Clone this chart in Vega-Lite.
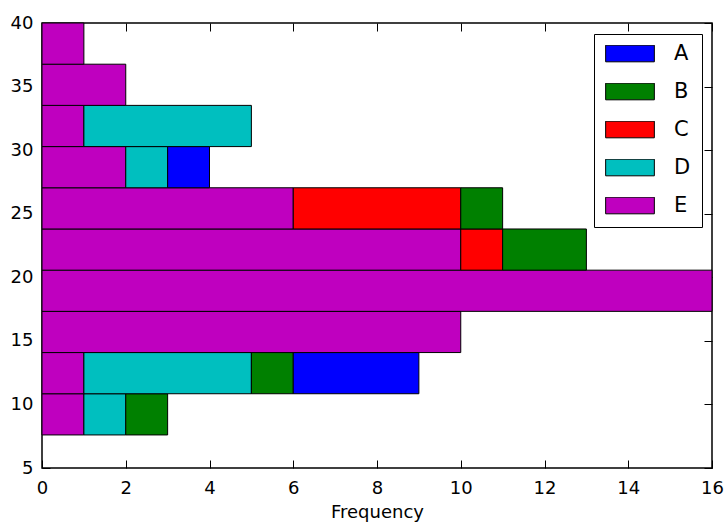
{
  "$schema": "https://vega.github.io/schema/vega-lite/v6.json",
  "width": 670,
  "height": 445,
  "autosize": {"type": "none"},
  "padding": {"left": 42, "top": 23, "right": 13, "bottom": 60},
  "background": "white",
  "data": {
    "values": [
      {"series": "E", "lo": 7.6, "hi": 10.84, "count": 1},
      {"series": "D", "lo": 7.6, "hi": 10.84, "count": 1},
      {"series": "B", "lo": 7.6, "hi": 10.84, "count": 1},
      {"series": "E", "lo": 10.84, "hi": 14.08, "count": 1},
      {"series": "D", "lo": 10.84, "hi": 14.08, "count": 4},
      {"series": "B", "lo": 10.84, "hi": 14.08, "count": 1},
      {"series": "A", "lo": 10.84, "hi": 14.08, "count": 3},
      {"series": "E", "lo": 14.08, "hi": 17.32, "count": 10},
      {"series": "E", "lo": 17.32, "hi": 20.56, "count": 16},
      {"series": "E", "lo": 20.56, "hi": 23.8, "count": 10},
      {"series": "C", "lo": 20.56, "hi": 23.8, "count": 1},
      {"series": "B", "lo": 20.56, "hi": 23.8, "count": 2},
      {"series": "E", "lo": 23.8, "hi": 27.04, "count": 6},
      {"series": "C", "lo": 23.8, "hi": 27.04, "count": 4},
      {"series": "B", "lo": 23.8, "hi": 27.04, "count": 1},
      {"series": "E", "lo": 27.04, "hi": 30.28, "count": 2},
      {"series": "D", "lo": 27.04, "hi": 30.28, "count": 1},
      {"series": "A", "lo": 27.04, "hi": 30.28, "count": 1},
      {"series": "E", "lo": 30.28, "hi": 33.52, "count": 1},
      {"series": "D", "lo": 30.28, "hi": 33.52, "count": 4},
      {"series": "E", "lo": 33.52, "hi": 36.76, "count": 2},
      {"series": "E", "lo": 36.76, "hi": 40, "count": 1}
    ]
  },
  "transform": [
    {"stack": "count", "groupby": ["lo"], "sort": [{"field": "series", "order": "descending"}], "as": ["x0", "x1"]}
  ],
  "layer": [
    {
      "mark": {"type": "bar", "stroke": "black", "strokeWidth": 1, "opacity": 1},
      "encoding": {
        "y": {"field": "lo", "type": "quantitative", "scale": {"domain": [5, 40], "nice": false, "zero": false},
              "axis": {"orient": "left", "offset": -8, "domain": false, "values": [5, 10, 15, 20, 25, 30, 35, 40], "title": null, "labelPadding": 9, "labelBaseline": "middle"}},
        "y2": {"field": "hi"},
        "x": {"field": "x0", "type": "quantitative", "scale": {"domain": [0, 16], "nice": false},
              "axis": {"orient": "bottom", "offset": -8, "domain": false, "values": [0, 2, 4, 6, 8, 10, 12, 14, 16], "title": "Frequency", "labelPadding": 11, "titlePadding": 6}},
        "x2": {"field": "x1"},
        "color": {"field": "series", "type": "nominal",
                  "scale": {"domain": ["A", "B", "C", "D", "E"], "range": ["#0000ff", "#008000", "#ff0000", "#00bfbf", "#bf00bf"]},
                  "legend": {"title": null}}
      }
    },
    {
      "mark": {"type": "point", "opacity": 0},
      "encoding": {
        "x": {"field": "x1", "type": "quantitative", "axis": {"orient": "top", "offset": -8, "labels": false, "title": null, "domain": false, "values": [0, 2, 4, 6, 8, 10, 12, 14, 16]}},
        "y": {"field": "hi", "type": "quantitative", "axis": {"orient": "right", "offset": -8, "labels": false, "title": null, "domain": false, "values": [5, 10, 15, 20, 25, 30, 35, 40]}}
      }
    }
  ],
  "resolve": {"axis": {"x": "independent", "y": "independent"}},
  "config": {
    "view": {"stroke": "black", "strokeWidth": 1.5},
    "axis": {
      "grid": false,
      "zindex": 2,
      "ticks": true,
      "tickSize": 8,
      "tickWidth": 1,
      "tickColor": "black",
      "labelColor": "black",
      "labelFont": "DejaVu Sans",
      "labelFontSize": 18,
      "labelFlush": false,
      "labelOverlap": false,
      "titleFont": "DejaVu Sans",
      "titleFontSize": 18,
      "titleFontWeight": "normal",
      "titleColor": "black"
    },
    "legend": {
      "orient": "none",
      "legendX": 552,
      "legendY": 11,
      "zindex": 3,
      "strokeColor": "black",
      "fillColor": "white",
      "padding": 11,
      "symbolType": "M-1,-0.342H1V0.342H-1Z",
      "symbolSize": 2372,
      "symbolStrokeColor": "black",
      "symbolStrokeWidth": 1,
      "symbolOpacity": 1,
      "labelFont": "DejaVu Sans",
      "labelFontSize": 21,
      "labelColor": "black",
      "labelOffset": 19,
      "clipHeight": 17,
      "rowPadding": 16
    }
  }
}
